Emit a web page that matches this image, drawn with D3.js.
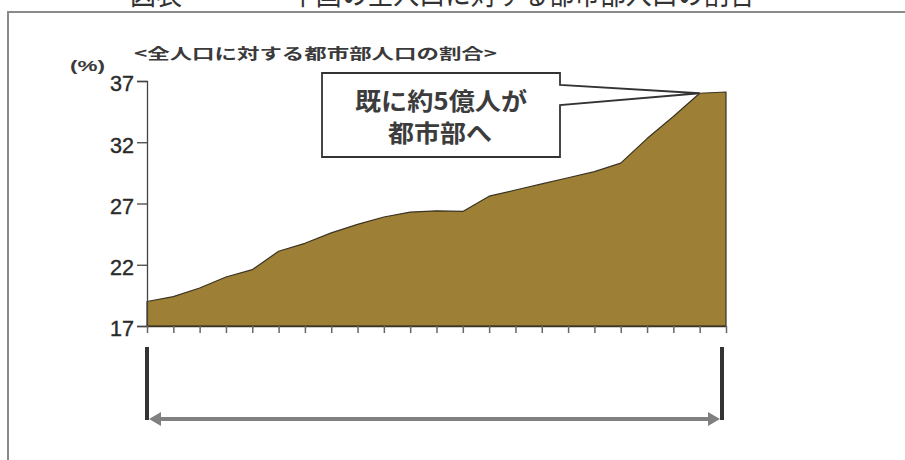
<!DOCTYPE html>
<html>
<head>
<meta charset="utf-8">
<script src="https://cdn.jsdelivr.net/npm/d3@7/dist/d3.min.js"></script>
<style>
  html, body { margin: 0; padding: 0; background: #ffffff; }
  svg { display: block; }
</style>
</head>
<body>
<div id="chart"></div>
<script>
// ---- data ----
const years = [1979, 1980, 1981, 1982, 1983, 1984, 1985, 1986, 1987, 1988, 1989, 1990,
               1991, 1992, 1993, 1994, 1995, 1996, 1997, 1998, 1999, 2000, 2001];
const urbanShare = [19.0, 19.4, 20.1, 21.0, 21.6, 23.1, 23.75, 24.6, 25.3, 25.9, 26.3, 26.4,
                    26.35, 27.6, 28.1, 28.6, 29.1, 29.6, 30.3, 32.3, 34.1, 36.0, 36.1];
const yTickValues = [17, 22, 27, 32, 37];
const yTickLabels = ["17", "22", "27", "32", "37"];
const subtitle = "<全人口に対する都市部人口の割合>";
const unitLabel = "(%)";
const calloutLines = ["既に約5億人が", "都市部へ"];
const titleLeft = "図表";
const titleRight = "中国の全人口に対する都市部人口の割合";

// ---- layout ----
const W = 905, H = 460;
const svg = d3.select("#chart").append("svg").attr("width", W).attr("height", H);
const cjk = "'Noto Sans CJK JP', 'Noto Sans CJK SC', sans-serif";
const latin = "'Liberation Sans', Arial, sans-serif";

const x = d3.scalePoint().domain(years).range([147, 726]);
const y = d3.scaleLinear().domain([17, 37]).range([326, 81]);

// title at the very top (cut off by the page edge, as in the reference)
svg.append("text").attr("x", 130).attr("y", 4)
  .attr("font-family", cjk).attr("font-size", 30).attr("fill", "#333")
  .attr("textLength", 52).attr("lengthAdjust", "spacingAndGlyphs").text(titleLeft);
svg.append("text").attr("x", 290).attr("y", 4)
  .attr("font-family", cjk).attr("font-size", 30).attr("fill", "#333")
  .attr("textLength", 465).attr("lengthAdjust", "spacingAndGlyphs").text(titleRight);

// frame
svg.append("path")
  .attr("d", `M8,${H} L8,12 L${W},12`)
  .attr("fill", "none").attr("stroke", "#8a8a8a").attr("stroke-width", 2);

// subtitle and unit
svg.append("text").attr("x", 134).attr("y", 59)
  .attr("font-family", cjk).attr("font-size", 15).attr("font-weight", 700).attr("fill", "#3a3a3a")
  .attr("textLength", 363).attr("lengthAdjust", "spacingAndGlyphs").text(subtitle);
svg.append("text").attr("x", 70).attr("y", 71)
  .attr("font-family", latin).attr("font-size", 14).attr("font-weight", 700).attr("fill", "#3a3a3a")
  .attr("textLength", 35).attr("lengthAdjust", "spacingAndGlyphs").text(unitLabel);

// area
const area = d3.area()
  .x((d, i) => x(years[i]))
  .y0(y(17))
  .y1(d => y(d));
svg.append("path").datum(urbanShare)
  .attr("d", area)
  .attr("fill", "#9d8036")
  .attr("stroke", "#3b3322").attr("stroke-width", 1.2).attr("stroke-linejoin", "round");

// y axis
const yAxis = svg.append("g").attr("transform", `translate(${x(years[0])},0)`)
  .call(d3.axisLeft(y).tickValues(yTickValues).tickSize(10).tickPadding(3)
    .tickFormat((d, i) => yTickLabels[i]));
yAxis.select(".domain").attr("stroke", "#444").attr("stroke-width", 1.3);
yAxis.selectAll(".tick line").attr("stroke", "#444").attr("stroke-width", 1.3);
yAxis.selectAll(".tick text").attr("font-family", latin).attr("font-size", 22)
  .attr("fill", "#2a2a2a").attr("stroke", "#2a2a2a").attr("stroke-width", 0.4).attr("dy", "0.45em")
  .attr("textLength", 24).attr("lengthAdjust", "spacingAndGlyphs");

// x axis (ticks only)
const xAxis = svg.append("g").attr("transform", `translate(0,${y(17)})`)
  .call(d3.axisBottom(x).tickSize(7).tickSizeOuter(0).tickFormat(""));
xAxis.select(".domain").attr("stroke", "#3b3322").attr("stroke-width", 1.5);
xAxis.selectAll(".tick line").attr("stroke", "#666").attr("stroke-width", 1.5);

// callout
const tipX = x(years[21]), tipY = y(urbanShare[21]);
const bx0 = 322, bx1 = 560, by0 = 73, by1 = 157;
svg.append("path")
  .attr("d", `M${bx0},${by0} L${bx1},${by0} L${bx1},85 L${tipX},${tipY} L${bx1},105 L${bx1},${by1} L${bx0},${by1} Z`)
  .attr("fill", "#ffffff").attr("stroke", "#333").attr("stroke-width", 1.8).attr("stroke-linejoin", "miter");
svg.append("text").attr("x", 355).attr("y", 110)
  .attr("font-family", cjk).attr("font-size", 24).attr("font-weight", 700).attr("fill", "#3c3c3c")
  .attr("textLength", 172).attr("lengthAdjust", "spacingAndGlyphs").text(calloutLines[0]);
svg.append("text").attr("x", 388).attr("y", 142)
  .attr("font-family", cjk).attr("font-size", 24).attr("font-weight", 700).attr("fill", "#3c3c3c")
  .attr("textLength", 104).attr("lengthAdjust", "spacingAndGlyphs").text(calloutLines[1]);

// span marker below the chart
const xa = x(years[0]), xb = x(years[years.length - 1]) - 4;
[xa, xb].forEach(px => {
  svg.append("line").attr("x1", px).attr("x2", px).attr("y1", 347).attr("y2", 420)
    .attr("stroke", "#333").attr("stroke-width", 4);
});
const ay = 419;
svg.append("line").attr("x1", xa + 8).attr("x2", xb - 8).attr("y1", ay).attr("y2", ay)
  .attr("stroke", "#808080").attr("stroke-width", 4);
svg.append("path").attr("d", `M${xa + 2},${ay} L${xa + 14},${ay - 7} L${xa + 14},${ay + 7} Z`).attr("fill", "#808080");
svg.append("path").attr("d", `M${xb - 2},${ay} L${xb - 14},${ay - 7} L${xb - 14},${ay + 7} Z`).attr("fill", "#808080");
</script>
</body>
</html>
